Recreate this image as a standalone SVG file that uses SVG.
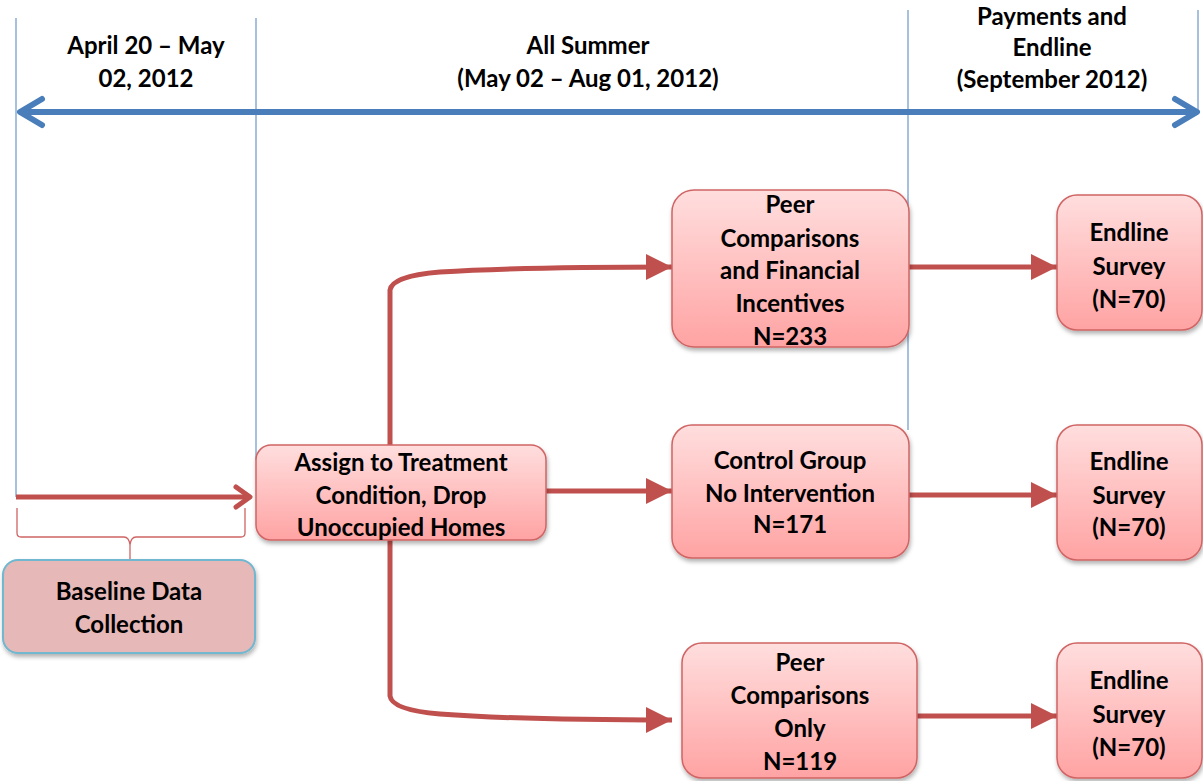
<svg xmlns="http://www.w3.org/2000/svg" width="1203" height="781" viewBox="0 0 1203 781">
<defs>
<linearGradient id="pink" x1="0" y1="0" x2="0" y2="1">
<stop offset="0" stop-color="#FFDEDE"/>
<stop offset="1" stop-color="#FFA3A3"/>
</linearGradient>
<filter id="sh" x="-10%" y="-10%" width="120%" height="130%">
<feDropShadow dx="1" dy="3" stdDeviation="2" flood-color="#000" flood-opacity="0.3"/>
</filter>
<marker id="tri" viewBox="0 0 10 10" refX="10" refY="5" markerWidth="5.4" markerHeight="5.2" markerUnits="strokeWidth" orient="auto">
<path d="M0,0 L10,5 L0,10 Z" fill="#C0504D"/>
</marker>
</defs>
<style>
text{font-family:Lato,"Open Sans","Liberation Sans",sans-serif;font-weight:bold;font-size:24px;fill:#000;text-anchor:middle;dominant-baseline:central}
.vl{stroke:#4F81BD;stroke-width:1;fill:none}
.box{fill:url(#pink);stroke:#D06464;stroke-width:1.5;filter:url(#sh)}
.con{stroke:#C0504D;stroke-width:5;fill:none;marker-end:url(#tri)}
</style>
<rect width="1203" height="781" fill="#fff"/>

<g id="timeline">
<line class="vl" x1="16" y1="18" x2="16" y2="497"/>
<line class="vl" x1="256" y1="18" x2="256" y2="460"/>
<line class="vl" x1="908" y1="10" x2="908" y2="430"/>
<line class="vl" x1="1198" y1="10" x2="1198" y2="112"/>
<line x1="22" y1="112" x2="1194" y2="112" stroke="#4A7EBB" stroke-width="6"/>
<polyline points="42,99 20,112 42,125" fill="none" stroke="#4A7EBB" stroke-width="6" stroke-linecap="round" stroke-linejoin="round"/>
<polyline points="1175,99 1197,112 1175,125" fill="none" stroke="#4A7EBB" stroke-width="6" stroke-linecap="round" stroke-linejoin="round"/>
<text x="146" y="44">April 20 – May</text>
<text x="146" y="77">02, 2012</text>
<text x="588" y="44">All Summer</text>
<text x="588" y="77">(May 02 – Aug 01, 2012)</text>
<text x="1052" y="15">Payments and</text>
<text x="1052" y="46">Endline</text>
<text x="1052" y="78">(September 2012)</text>
</g>

<g id="connectors">
<line x1="16" y1="497" x2="250" y2="497" stroke="#C0504D" stroke-width="5"/>
<polyline points="236,487 250,497 236,507" fill="none" stroke="#C0504D" stroke-width="5" stroke-linecap="round" stroke-linejoin="round"/>
<path d="M17,508 V533 Q17,537 21,537 H124 Q129,537 130,545 V560 M130,545 Q131,537 136,537 H241 Q245,537 245,533 V508" fill="none" stroke="#D06464" stroke-width="1.3"/>
<path class="con" d="M390,445 V290 Q392,276 440,272 Q520,267 672,267"/>
<line class="con" x1="546" y1="491" x2="672" y2="491"/>
<path class="con" d="M390,540 V696 Q392,710 440,714 Q520,720 672,720"/>
<line class="con" x1="909" y1="267" x2="1057" y2="267"/>
<line class="con" x1="909" y1="495" x2="1057" y2="495"/>
<line class="con" x1="917" y1="716" x2="1057" y2="716"/>
</g>

<g id="baseline">
<rect x="3" y="560" width="252" height="93" rx="15" fill="#E6B8B7" stroke="#6FB7CF" stroke-width="2" filter="url(#sh)"/>
<text x="129" y="590">Baseline Data</text>
<text x="129" y="623">Collection</text>
</g>

<g id="assign">
<rect class="box" x="256" y="445" width="290" height="95" rx="15"/>
<text x="401" y="461">Assign to Treatment</text>
<text x="401" y="494">Condition,  Drop</text>
<text x="401" y="526">Unoccupied Homes</text>
</g>

<g id="peer-fin">
<rect class="box" x="672" y="190" width="237" height="157" rx="22"/>
<text x="790" y="203">Peer</text>
<text x="790" y="237">Comparisons</text>
<text x="790" y="269">and Financial</text>
<text x="790" y="302">Incentives</text>
<text x="790" y="335">N=233</text>
</g>

<g id="control">
<rect class="box" x="672" y="425" width="237" height="133" rx="20"/>
<text x="790" y="459">Control Group</text>
<text x="790" y="492">No Intervention</text>
<text x="790" y="523">N=171</text>
</g>

<g id="peer-only">
<rect class="box" x="682" y="643" width="235" height="135" rx="20"/>
<text x="800" y="661">Peer</text>
<text x="800" y="694">Comparisons</text>
<text x="800" y="727">Only</text>
<text x="800" y="760">N=119</text>
</g>

<g id="endline1">
<rect class="box" x="1057" y="195" width="145" height="135" rx="20"/>
<text x="1129" y="231">Endline</text>
<text x="1129" y="265">Survey</text>
<text x="1129" y="298">(N=70)</text>
</g>

<g id="endline2">
<rect class="box" x="1057" y="425" width="145" height="135" rx="20"/>
<text x="1129" y="460">Endline</text>
<text x="1129" y="494">Survey</text>
<text x="1129" y="526">(N=70)</text>
</g>

<g id="endline3">
<rect class="box" x="1057" y="643" width="145" height="135" rx="20"/>
<text x="1129" y="679">Endline</text>
<text x="1129" y="713">Survey</text>
<text x="1129" y="746">(N=70)</text>
</g>
</svg>
